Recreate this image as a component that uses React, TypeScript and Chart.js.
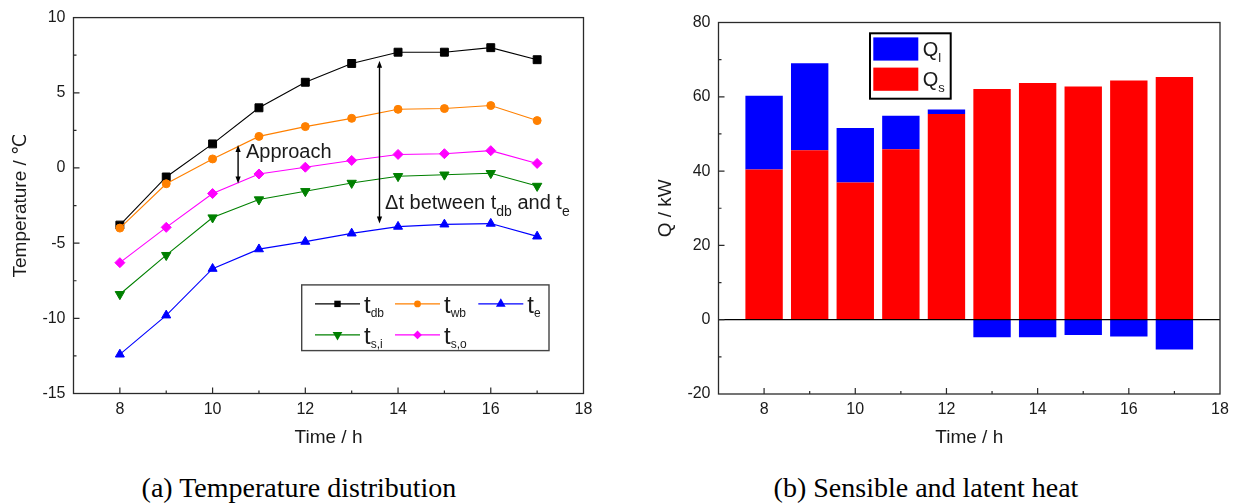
import React, { useEffect, useRef } from 'react';
import { Chart, registerables } from 'chart.js';

Chart.register(...registerables);

// ---- data -------------------------------------------------------------
const hours = [8, 9, 10, 11, 12, 13, 14, 15, 16, 17];

// Temperatures (°C)
const tDryBulb = [-3.8, -0.6, 1.6, 4.0, 5.7, 6.95, 7.7, 7.7, 8.0, 7.2];
const tWetBulb = [-4.0, -1.05, 0.6, 2.1, 2.75, 3.3, 3.9, 3.95, 4.15, 3.15];
const tEvap = [-12.4, -9.8, -6.7, -5.4, -4.9, -4.35, -3.9, -3.75, -3.7, -4.55];
const tSolIn = [-8.4, -5.8, -3.3, -2.1, -1.55, -1.0, -0.55, -0.45, -0.35, -1.2];
const tSolOut = [-6.3, -3.95, -1.7, -0.4, 0.05, 0.5, 0.9, 0.95, 1.15, 0.3];

// Heat (kW)
const qSensible = [40.4, 45.6, 36.9, 45.9, 55.4, 62.1, 63.7, 62.8, 64.4, 65.3];
const qLatent = [19.9, 23.4, 14.7, 9.0, 1.2, -4.7, -4.7, -4.1, -4.5, -8.0];

// Axis ticks
const timeTicks = [8, 10, 12, 14, 16, 18];
const tempTicks = [-15, -10, -5, 0, 5, 10];
const heatTicks = [-20, 0, 20, 40, 60, 80];

// Annotations (data units)
const approachArrow = { x: 10.55, top: 1.52, bottom: -1.04 };
const approachLabel = { x: 10.72, y: 1.01 };
const deltaArrow = { x: 13.6, top: 7.13, bottom: -3.69 };
const deltaLabel = { x: 13.72, y: -2.74 };

// ---- styling ----------------------------------------------------------
const SANS = '"Liberation Sans", Arial, "DejaVu Sans", sans-serif';
const INK = '#1a1a1a';

Chart.defaults.font.family = SANS;
Chart.defaults.color = INK;

type Marker = 'rect' | 'circle' | 'triangle' | 'triangleDown' | 'diamond';

const series = [
  { sub: 'db', values: tDryBulb, color: '#000000', marker: 'rect' as Marker, style: 'rect', radius: 5.6, rotation: 0, legendR: 3.2 },
  { sub: 'wb', values: tWetBulb, color: '#FF8000', marker: 'circle' as Marker, style: 'circle', radius: 4, rotation: 0, legendR: 3.4 },
  { sub: 'e', values: tEvap, color: '#0000FF', marker: 'triangle' as Marker, style: 'triangle', radius: 5.2, rotation: 0, legendR: 5.6 },
  { sub: 's,i', values: tSolIn, color: '#008000', marker: 'triangleDown' as Marker, style: 'triangle', radius: 5.4, rotation: 180, legendR: 5.6 },
  { sub: 's,o', values: tSolOut, color: '#FF00FF', marker: 'diamond' as Marker, style: 'rectRot', radius: 5, rotation: 0, legendR: 4.4 },
];

// ---- drawing helpers --------------------------------------------------
function drawMarker(ctx: CanvasRenderingContext2D, kind: Marker, x: number, y: number, r: number, color: string) {
  ctx.save();
  ctx.fillStyle = color;
  ctx.beginPath();
  if (kind === 'rect') ctx.rect(x - r, y - r, 2 * r, 2 * r);
  else if (kind === 'circle') ctx.arc(x, y, r, 0, Math.PI * 2);
  else if (kind === 'triangle') {
    ctx.moveTo(x, y - r);
    ctx.lineTo(x + r * 0.866, y + r * 0.5);
    ctx.lineTo(x - r * 0.866, y + r * 0.5);
    ctx.closePath();
  } else if (kind === 'triangleDown') {
    ctx.moveTo(x, y + r);
    ctx.lineTo(x + r * 0.866, y - r * 0.5);
    ctx.lineTo(x - r * 0.866, y - r * 0.5);
    ctx.closePath();
  } else {
    ctx.moveTo(x, y - r);
    ctx.lineTo(x + r, y);
    ctx.lineTo(x, y + r);
    ctx.lineTo(x - r, y);
    ctx.closePath();
  }
  ctx.fill();
  ctx.restore();
}

type Part = { text: string; sub?: boolean };

function drawRich(
  ctx: CanvasRenderingContext2D,
  x: number,
  baseline: number,
  parts: Part[],
  mainSize: number,
  subSize: number,
  subDrop: number
) {
  ctx.save();
  ctx.textAlign = 'left';
  ctx.textBaseline = 'alphabetic';
  ctx.fillStyle = INK;
  let cx = x;
  for (const p of parts) {
    ctx.font = `${p.sub ? subSize : mainSize}px ${SANS}`;
    ctx.fillText(p.text, cx, baseline + (p.sub ? subDrop : 0));
    cx += ctx.measureText(p.text).width;
  }
  ctx.restore();
}

function doubleArrow(ctx: CanvasRenderingContext2D, x: number, yTop: number, yBottom: number) {
  const head = 7;
  const half = 2.6;
  ctx.save();
  ctx.strokeStyle = '#000';
  ctx.fillStyle = '#000';
  ctx.lineWidth = 1.4;
  ctx.beginPath();
  ctx.moveTo(x, yTop + head - 1);
  ctx.lineTo(x, yBottom - head + 1);
  ctx.stroke();
  ctx.beginPath();
  ctx.moveTo(x, yTop);
  ctx.lineTo(x - half, yTop + head);
  ctx.lineTo(x + half, yTop + head);
  ctx.closePath();
  ctx.fill();
  ctx.beginPath();
  ctx.moveTo(x, yBottom);
  ctx.lineTo(x - half, yBottom - head);
  ctx.lineTo(x + half, yBottom - head);
  ctx.closePath();
  ctx.fill();
  ctx.restore();
}

function drawFrameAndTicks(chart: any, xTitle: string, yTitle: string, zeroLine: boolean) {
  const { ctx, chartArea: a, scales } = chart;
  const xs = scales.x;
  const ys = scales.y;
  ctx.save();

  if (zeroLine) {
    const py = ys.getPixelForValue(0);
    ctx.strokeStyle = '#000';
    ctx.lineWidth = 1.2;
    ctx.beginPath();
    ctx.moveTo(a.left, py);
    ctx.lineTo(a.right, py);
    ctx.stroke();
  }

  ctx.strokeStyle = '#2a2a2a';
  ctx.lineWidth = 1.3;
  ctx.strokeRect(a.left, a.top, a.right - a.left, a.bottom - a.top);

  ctx.lineWidth = 1.2;
  ctx.beginPath();
  const xv = xs.ticks.map((t: any) => t.value);
  xv.forEach((v: number, i: number) => {
    const px = xs.getPixelForValue(v);
    if (px > a.left + 1 && px < a.right - 1) {
      ctx.moveTo(px, a.bottom);
      ctx.lineTo(px, a.bottom - 6);
    }
    if (i < xv.length - 1) {
      const mx = xs.getPixelForValue((v + xv[i + 1]) / 2);
      ctx.moveTo(mx, a.bottom);
      ctx.lineTo(mx, a.bottom - 3);
    }
  });
  const yv = ys.ticks.map((t: any) => t.value);
  yv.forEach((v: number, i: number) => {
    const py = ys.getPixelForValue(v);
    if (py > a.top + 1 && py < a.bottom - 1) {
      ctx.moveTo(a.left, py);
      ctx.lineTo(a.left + 6, py);
    }
    if (i < yv.length - 1) {
      const my = ys.getPixelForValue((v + yv[i + 1]) / 2);
      ctx.moveTo(a.left, my);
      ctx.lineTo(a.left + 3, my);
    }
  });
  ctx.stroke();

  ctx.fillStyle = INK;
  ctx.font = `19px ${SANS}`;
  ctx.textAlign = 'center';
  ctx.textBaseline = 'middle';
  ctx.fillText(xTitle, (a.left + a.right) / 2, a.bottom + 44);
  ctx.translate(a.left - 53, (a.top + a.bottom) / 2);
  ctx.rotate(-Math.PI / 2);
  ctx.fillText(yTitle, 0, 0);
  ctx.restore();
}

function fixedScale(size: number, ticks: number[], horizontal: boolean) {
  return {
    afterFit(scale: any) {
      if (horizontal) scale.height = size;
      else scale.width = size;
    },
    afterBuildTicks(scale: any) {
      scale.ticks = ticks.map((v) => ({ value: v }));
    },
  };
}

// ---- temperature chart -----------------------------------------------
const temperatureDecor = {
  id: 'temperatureDecor',
  afterDraw(chart: any) {
    const { ctx, chartArea: a, scales } = chart;
    const xs = scales.x;
    const ys = scales.y;
    drawFrameAndTicks(chart, 'Time / h', 'Temperature / \u2103', false);

    // annotations
    doubleArrow(ctx, xs.getPixelForValue(approachArrow.x), ys.getPixelForValue(approachArrow.top), ys.getPixelForValue(approachArrow.bottom));
    ctx.save();
    ctx.fillStyle = INK;
    ctx.font = `20px ${SANS}`;
    ctx.textAlign = 'left';
    ctx.textBaseline = 'middle';
    ctx.fillText('Approach', xs.getPixelForValue(approachLabel.x), ys.getPixelForValue(approachLabel.y));
    ctx.restore();

    doubleArrow(ctx, xs.getPixelForValue(deltaArrow.x), ys.getPixelForValue(deltaArrow.top), ys.getPixelForValue(deltaArrow.bottom));
    drawRich(
      ctx,
      xs.getPixelForValue(deltaLabel.x),
      ys.getPixelForValue(deltaLabel.y),
      [{ text: '\u0394t between t' }, { text: 'db', sub: true }, { text: ' and t' }, { text: 'e', sub: true }],
      20,
      14,
      7
    );

    // legend
    const bx = a.left + 228.2;
    const by = a.top + 267.3;
    const bw = 247.3;
    const bh = 65.7;
    ctx.save();
    ctx.fillStyle = '#fff';
    ctx.fillRect(bx, by, bw, bh);
    ctx.strokeStyle = '#444';
    ctx.lineWidth = 1.4;
    ctx.strokeRect(bx, by, bw, bh);
    ctx.restore();
    const cols = [13.3, 93.3, 176.6];
    const rows = [19, 50];
    series.forEach((s, i) => {
      const col = i < 3 ? i : i - 3;
      const row = i < 3 ? 0 : 1;
      const lx = bx + cols[col];
      const ly = by + rows[row];
      ctx.save();
      ctx.strokeStyle = s.color;
      ctx.lineWidth = 1.2;
      ctx.beginPath();
      ctx.moveTo(lx, ly);
      ctx.lineTo(lx + 45, ly);
      ctx.stroke();
      ctx.restore();
      drawMarker(ctx, s.marker, lx + 22.5, ly, s.legendR, s.color);
      drawRich(ctx, lx + 49, ly + 9.4, [{ text: 't' }, { text: s.sub, sub: true }], 24, 12, 3.4);
    });
  },
};

function temperatureConfig(): any {
  return {
    type: 'line',
    data: {
      datasets: series.map((s, i) => ({
        label: `t_${s.sub}`,
        data: hours.map((h, k) => ({ x: h, y: s.values[k] })),
        borderColor: s.color,
        backgroundColor: s.color,
        borderWidth: 1.1,
        pointStyle: s.style,
        pointRadius: s.radius,
        pointRotation: s.rotation,
        pointBorderWidth: 1,
        pointBackgroundColor: s.color,
        pointBorderColor: s.color,
        tension: 0,
        order: series.length - i,
      })),
    },
    options: {
      animation: false,
      responsive: false,
      layout: { padding: { left: 0, top: 16, right: 34.5, bottom: 0 } },
      plugins: { legend: { display: false }, tooltip: { enabled: false } },
      scales: {
        x: {
          type: 'linear',
          min: 7,
          max: 18,
          grid: { display: false, drawTicks: false },
          border: { display: false },
          ticks: { font: { size: 16 }, color: INK, padding: 6 },
          ...fixedScale(66.5, timeTicks, true),
        },
        y: {
          type: 'linear',
          min: -15,
          max: 10,
          grid: { display: false, drawTicks: false },
          border: { display: false },
          ticks: { font: { size: 16 }, color: INK, padding: 8 },
          ...fixedScale(73.5, tempTicks, false),
        },
      },
    },
    plugins: [temperatureDecor],
  };
}

// ---- heat chart --------------------------------------------------------
const heatDecor = {
  id: 'heatDecor',
  afterDraw(chart: any) {
    const { ctx, chartArea: a } = chart;
    drawFrameAndTicks(chart, 'Time / h', 'Q / kW', true);

    const bx = a.left + 151.5;
    const by = a.top + 10.8;
    const bw = 80.7;
    const bh = 65.4;
    ctx.save();
    ctx.fillStyle = '#fff';
    ctx.fillRect(bx, by, bw, bh);
    ctx.strokeStyle = '#000';
    ctx.lineWidth = 2;
    ctx.strokeRect(bx, by, bw, bh);
    const entries = [
      { color: '#0000FF', sub: 'l', cy: by + 15.7 },
      { color: '#FF0000', sub: 's', cy: by + 45.9 },
    ];
    entries.forEach((e) => {
      ctx.fillStyle = e.color;
      ctx.fillRect(bx + 3.3, e.cy - 11.6, 45, 23.2);
      drawRich(ctx, bx + 52.7, e.cy + 7, [{ text: 'Q' }, { text: e.sub, sub: true }], 20, 13, 5.5);
    });
    ctx.restore();
  },
};

function heatConfig(): any {
  return {
    type: 'bar',
    data: {
      datasets: [
        {
          label: 'Q_s',
          data: hours.map((h, k) => ({ x: h, y: qSensible[k] })),
          backgroundColor: '#FF0000',
          borderWidth: 0,
          barPercentage: 0.82,
          categoryPercentage: 1,
        },
        {
          label: 'Q_l',
          data: hours.map((h, k) => ({ x: h, y: qLatent[k] })),
          backgroundColor: '#0000FF',
          borderWidth: 0,
          barPercentage: 0.82,
          categoryPercentage: 1,
        },
      ],
    },
    options: {
      animation: false,
      responsive: false,
      layout: { padding: { left: 0, top: 22.5, right: 16, bottom: 0 } },
      plugins: { legend: { display: false }, tooltip: { enabled: false } },
      scales: {
        x: {
          type: 'linear',
          min: 7,
          max: 18,
          offset: false,
          stacked: true,
          grid: { display: false, drawTicks: false },
          border: { display: false },
          ticks: { font: { size: 16 }, color: INK, padding: 6 },
          ...fixedScale(66, timeTicks, true),
        },
        y: {
          type: 'linear',
          min: -20,
          max: 80,
          stacked: true,
          grid: { display: false, drawTicks: false },
          border: { display: false },
          ticks: { font: { size: 16 }, color: INK, padding: 8 },
          ...fixedScale(100.5, heatTicks, false),
        },
      },
    },
    plugins: [heatDecor],
  };
}

// ---- page --------------------------------------------------------------
const captionStyle = (cx: number): React.CSSProperties => ({
  position: 'absolute',
  left: cx,
  top: 473.6,
  transform: 'translateX(-50%)',
  whiteSpace: 'nowrap',
  fontFamily: '"Liberation Serif", "Times New Roman", serif',
  fontSize: 28,
  lineHeight: '28px',
  color: '#000',
});

export default function App() {
  const leftRef = useRef<HTMLCanvasElement>(null);
  const rightRef = useRef<HTMLCanvasElement>(null);

  useEffect(() => {
    if (!leftRef.current || !rightRef.current) return;
    const left = new Chart(leftRef.current, temperatureConfig());
    const right = new Chart(rightRef.current, heatConfig());
    return () => {
      left.destroy();
      right.destroy();
    };
  }, []);

  return (
    <div
      style={{
        position: 'fixed',
        left: 0,
        top: 0,
        width: 1236,
        height: 504,
        background: '#fff',
        overflow: 'hidden',
      }}
    >
      <canvas ref={leftRef} width={618} height={460} style={{ position: 'absolute', left: 0, top: 0 }} />
      <canvas ref={rightRef} width={618} height={460} style={{ position: 'absolute', left: 618, top: 0 }} />
      <div style={captionStyle(299)}>(a) Temperature distribution</div>
      <div style={captionStyle(926)}>(b) Sensible and latent heat</div>
    </div>
  );
}
